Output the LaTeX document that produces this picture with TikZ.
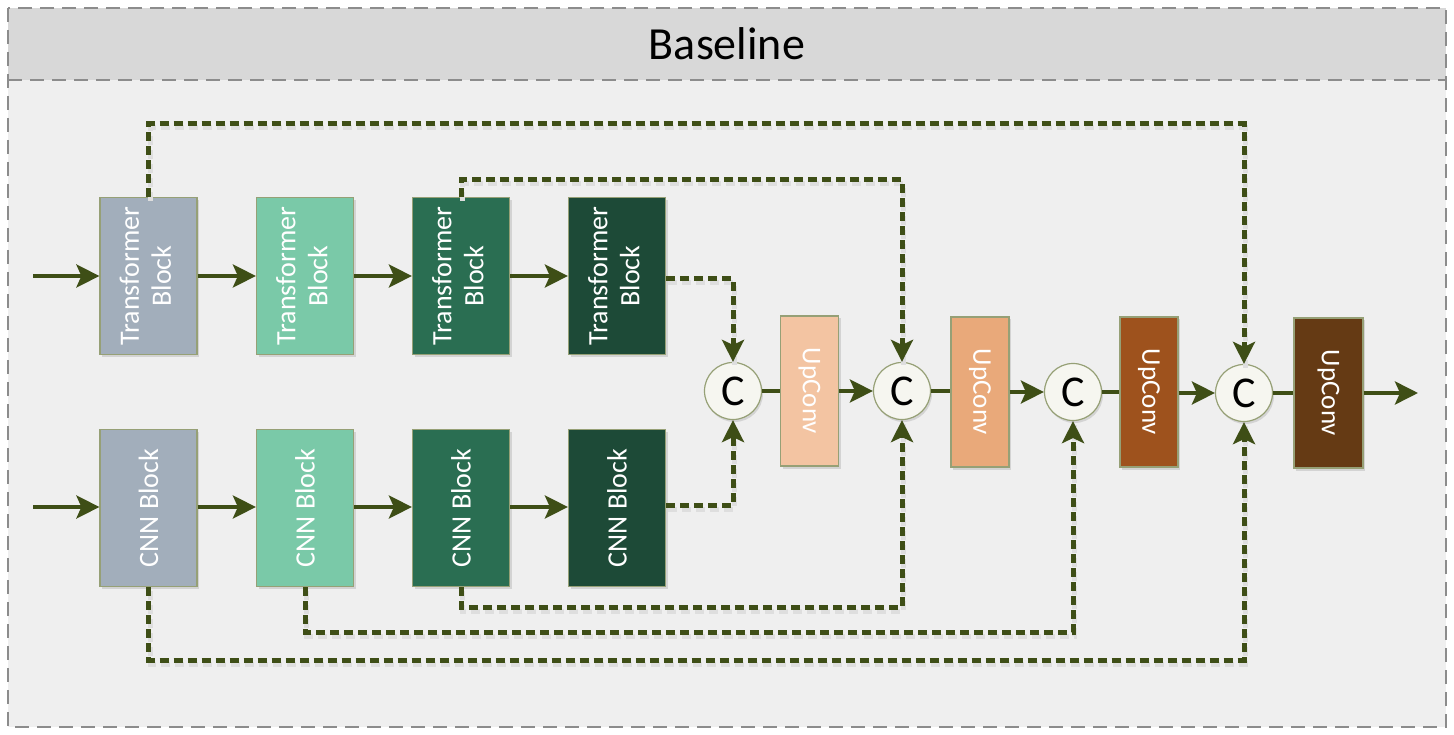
\documentclass[tikz,border=0pt]{standalone}
\usepackage{fontspec}
\usepackage{graphicx}
\setmainfont{Carlito}
\usetikzlibrary{arrows.meta,shadows}
\definecolor{arrc}{RGB}{62,78,22}
\definecolor{bordc}{RGB}{150,160,118}
\definecolor{headc}{RGB}{216,216,216}
\definecolor{bodyc}{RGB}{239,239,239}
\definecolor{framec}{RGB}{140,140,140}
\definecolor{cA}{RGB}{162,174,187}
\definecolor{cB}{RGB}{122,201,168}
\definecolor{cC}{RGB}{42,110,82}
\definecolor{cD}{RGB}{29,74,55}
\definecolor{uA}{RGB}{243,196,162}
\definecolor{uB}{RGB}{233,169,122}
\definecolor{uC}{RGB}{158,82,29}
\definecolor{uD}{RGB}{101,58,20}
\definecolor{circc}{RGB}{246,246,240}
\newcommand\rotL[1]{\rotatebox{90}{#1}}
\newcommand\rotR[1]{\rotatebox{-90}{#1}}
\newcommand\twoline[2]{\begin{tabular}{@{}c@{}}#1\\#2\end{tabular}}
\begin{document}
\begin{tikzpicture}[x=1pt,y=-1pt,
  frame/.style={draw=framec, line width=2pt, dash pattern=on 14pt off 8pt},
  blk/.style={draw=bordc, line width=1.2pt, minimum width=97pt, minimum height=157pt,
    inner sep=0pt, text=white, font=\fontsize{28}{32}\selectfont,
    drop shadow={shadow xshift=2pt, shadow yshift=-2.5pt, opacity=0.25}},
  upc/.style={blk, minimum width=58pt, minimum height=150pt, font=\fontsize{27}{32}\selectfont},
  cnode/.style={circle, draw=bordc, line width=1.2pt, fill=circc, minimum size=57pt,
    inner sep=0pt, font=\fontsize{44}{48}\selectfont,
    drop shadow={shadow xshift=1.5pt, shadow yshift=-2.5pt, opacity=0.25}},
  title/.style={font=\fontsize{46}{50}\selectfont, text=black},
  arr/.style={draw=arrc, line width=4pt, -{Stealth[length=23pt,width=23pt,inset=5pt]}},
  plain/.style={draw=arrc, line width=4pt},
  skipc/.style={draw=arrc, line width=5pt, dash pattern=on 9pt off 5pt,
    -{Stealth[length=22pt,width=22pt,inset=5pt]},
    preaction={draw=black!13, -, line width=5pt, dash pattern=on 9pt off 5pt,
      transform canvas={shift={(1.5pt,-4pt)}}}}
]
\useasboundingbox (0,0) rectangle (1454,735);
\fill[white] (0,0) rectangle (1454,735);
\fill[bodyc] (8,80) rectangle (1446,727);
\fill[headc] (8,8) rectangle (1446,80);
\draw[frame] (8,8) rectangle (1446,727);
\draw[frame] (8,80) -- (1446,80);
\node[title] (title) at (727,44) {Baseline};

% transformer row
\node[blk, fill=cA] (T1) at (148.5,276) {\rotL{\twoline{Transformer}{Block}}};
\node[blk, fill=cB] (T2) at (305,276) {\rotL{\twoline{Transformer}{Block}}};
\node[blk, fill=cC] (T3) at (461,276) {\rotL{\twoline{Transformer}{Block}}};
\node[blk, fill=cD] (T4) at (617,276) {\rotL{\twoline{Transformer}{Block}}};
% cnn row
\node[blk, fill=cA] (N1) at (148.5,508) {\rotL{CNN Block}};
\node[blk, fill=cB] (N2) at (305,508) {\rotL{CNN Block}};
\node[blk, fill=cC] (N3) at (461,508) {\rotL{CNN Block}};
\node[blk, fill=cD] (N4) at (617,508) {\rotL{CNN Block}};
% decoder
\node[cnode] (C1) at (733,391) {C};
\node[upc, fill=uA] (U1) at (809.5,391) {\rotR{UpConv}};
\node[cnode] (C2) at (902,391) {C};
\node[upc, fill=uB] (U2) at (980,392) {\rotR{UpConv}};
\node[cnode] (C3) at (1073,392) {C};
\node[upc, fill=uC] (U3) at (1149,392) {\rotR{UpConv}};
\node[cnode] (C4) at (1244,393) {C};
\node[upc, fill=uD, minimum width=69pt] (U4) at (1328.5,393) {\rotR{UpConv}};

\coordinate (inT) at (33,276);
\coordinate (inN) at (33,507);
\coordinate (outp) at (1418,393);

% skip connections
\coordinate (t1up) at (148.5,124);
\coordinate (t3up) at (461,180);
\coordinate (n3dn) at (461,607);
\coordinate (n2dn) at (305,632);
\coordinate (n1dn) at (148.5,660);
\draw[skipc] (T1.north) -- (t1up) -| (C4.north);
\draw[skipc] (T3.north) -- (t3up) -| (C2.north);
\draw[skipc] (T4.east |- 0,279) -| (C1.north);
\draw[skipc] (N4.east |- 0,505) -| (C1.south);
\draw[skipc] (N3.south) -- (n3dn) -| (C2.south);
\draw[skipc] (N2.south) -- (n2dn) -| (C3.south);
\draw[skipc] (N1.south) -- (n1dn) -| (C4.south);

% solid arrows
\draw[arr] (inT) -- (T1.west);
\draw[arr] (T1.east) -- (T2.west);
\draw[arr] (T2.east) -- (T3.west);
\draw[arr] (T3.east) -- (T4.west);
\draw[arr] (inN) -- (inN -| N1.west);
\draw[arr] (N1.east |- inN) -- (N2.west |- inN);
\draw[arr] (N2.east |- inN) -- (N3.west |- inN);
\draw[arr] (N3.east |- inN) -- (N4.west |- inN);
\draw[plain] (C1.east) -- (C1.east -| U1.west);
\draw[arr] (U1.east |- C2) -- (C2.west);
\draw[plain] (C2.east) -- (C2.east -| U2.west);
\draw[arr] (U2.east |- C3) -- (C3.west);
\draw[plain] (C3.east) -- (C3.east -| U3.west);
\draw[arr] (U3.east |- C4) -- (C4.west);
\draw[plain] (C4.east) -- (C4.east -| U4.west);
\draw[arr] (U4.east |- outp) -- (outp);
\end{tikzpicture}
\end{document}
